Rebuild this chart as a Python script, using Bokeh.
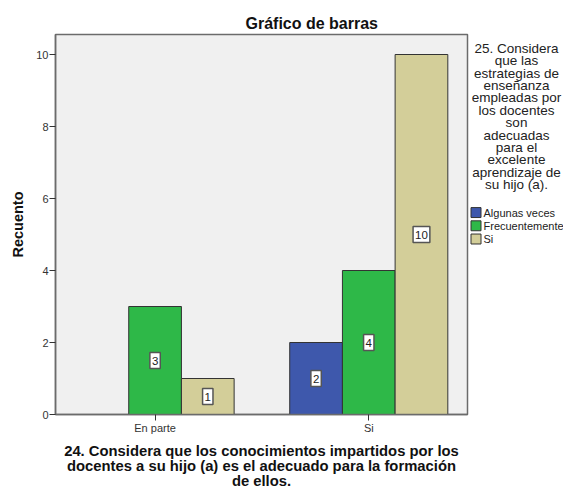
from bokeh.plotting import figure
from bokeh.layouts import row
from bokeh.models import Label, FixedTicker, ColumnDataSource, Range1d
from bokeh.embed import file_html
from bokeh.resources import INLINE
from bokeh.core.properties import value

# ---------------- data ----------------
categories = ["En parte", "Si"]
series_names = ["Algunas veces", "Frecuentemente", "Si"]
algunas_veces = [0, 2]
frecuentemente = [3, 4]
si_values = [1, 10]
series_values = [algunas_veces, frecuentemente, si_values]
series_colors = ["#3e58ac", "#2eb848", "#d3ce99"]
y_ticks = [0, 2, 4, 6, 8, 10]

chart_title = "Gráfico de barras"
x_title = ("24. Considera que los conocimientos impartidos por los\n"
           "docentes a su hijo (a) es el adecuado para la formación\n"
           "de ellos.")
y_title = "Recuento"
legend_title_lines = ["25. Considera", "que las", "estrategias de", "enseñanza",
                      "empleadas por", "los docentes", "son", "adecuadas", "para el",
                      "excelente", "aprendizaje de", "su hijo (a)."]

# ---------------- layout ----------------
FONT = "Liberation Sans"
TOTAL_W, TOTAL_H = 563, 489
FRAME_W, FRAME_H = 412, 380
BORDER_L, BORDER_T, BORDER_R = 55, 34, 2
BORDER_B = TOTAL_H - BORDER_T - FRAME_H
MAIN_W = BORDER_L + FRAME_W + BORDER_R
SIDE_W = TOTAL_W - MAIN_W
PX_PER_UNIT = 36.0
X_START, X_END = -0.466, 1.462
Y_END = FRAME_H / PX_PER_UNIT
BAR_W = 0.2466

p = figure(frame_width=FRAME_W, frame_height=FRAME_H,
           x_range=Range1d(X_START, X_END), y_range=Range1d(0, Y_END),
           output_backend="svg", toolbar_location=None, title=chart_title,
           min_border_left=BORDER_L, min_border_right=BORDER_R,
           min_border_top=BORDER_T, min_border_bottom=BORDER_B,
           background_fill_color="#f0f0f0", border_fill_color="white",
           outline_line_color="#6b6b6b", outline_line_width=1.5)
p.xgrid.visible = False
p.ygrid.visible = False

p.title.align = "left"
p.title.offset = 190
p.title.standoff = 6
p.title.text_font = FONT
p.title.text_font_size = "16px"
p.title.text_font_style = "bold"
p.title.text_color = "#111111"

n = len(series_names)
for i, (name, vals, col) in enumerate(zip(series_names, series_values, series_colors)):
    offset = (i - (n - 1) / 2) * BAR_W
    xs = [j + offset for j, v in enumerate(vals) if v > 0]
    tops = [v for v in vals if v > 0]
    src = ColumnDataSource(dict(x=xs, top=tops))
    p.vbar(x="x", top="top", width=BAR_W, source=src, fill_color=col,
           line_color="#333333", line_width=1)
    for xv, tv in zip(xs, tops):
        p.add_layout(Label(x=xv, y=tv / 2, text=str(tv), text_align="center",
                           text_baseline="middle", text_font=FONT,
                           text_font_size="11.5px", text_color="#222222",
                           background_fill_color="white", border_line_color="#555555",
                           border_line_width=1.5, padding=(2, 4)))

# axes
for ax in (p.xaxis[0], p.yaxis[0]):
    ax.axis_line_color = "#6b6b6b"
    ax.axis_line_width = 1.5
    ax.major_tick_out = 6
    ax.major_tick_in = 0
    ax.minor_tick_line_color = None
    ax.major_tick_line_color = "#333333"
    ax.major_label_text_font = FONT
    ax.major_label_text_font_size = "11px"
    ax.major_label_text_color = "#333333"
    ax.axis_label_text_font = FONT
    ax.axis_label_text_font_style = "bold"
    ax.axis_label_text_color = "#111111"

p.yaxis[0].ticker = FixedTicker(ticks=y_ticks)
p.yaxis[0].major_label_standoff = 1
p.yaxis[0].axis_label = y_title
p.yaxis[0].axis_label_text_font_size = "14.5px"
p.yaxis[0].axis_label_standoff = 7

p.xaxis[0].ticker = FixedTicker(ticks=list(range(len(categories))))
p.xaxis[0].major_label_overrides = {i: c for i, c in enumerate(categories)}
p.xaxis[0].major_label_standoff = 1
p.xaxis[0].axis_label = x_title
p.xaxis[0].axis_label_text_font_size = "14.8px"
p.xaxis[0].axis_label_text_line_height = 0.95
p.xaxis[0].axis_label_standoff = 6

# ---------------- legend panel (page pixel coordinates) ----------------
# the row aligns this panel's frame with the main frame (vertical span BORDER_T..BORDER_T+FRAME_H)
side = figure(width=SIDE_W, height=TOTAL_H,
              x_range=Range1d(MAIN_W, TOTAL_W),
              y_range=Range1d(BORDER_T + FRAME_H, BORDER_T),
              output_backend="svg", toolbar_location=None, title=None,
              min_border=0, x_axis_location=None, y_axis_location=None,
              outline_line_color=None, background_fill_color="white",
              border_fill_color="white")
side.grid.visible = False

LT_X, LT_Y0, LT_STEP = 516, 48, 12.45
side.text(x=[LT_X] * len(legend_title_lines),
          y=[LT_Y0 + k * LT_STEP for k in range(len(legend_title_lines))],
          text=legend_title_lines, text_align="center", text_baseline="middle",
          text_font=value(FONT), text_font_size="13.5px", text_color="#222222")

IT_X, IT_Y0, IT_STEP = 475.5, 213, 13.3
item_y = [IT_Y0 + k * IT_STEP for k in range(n)]
side.rect(x=[IT_X] * n, y=item_y, width=10, height=10, fill_color=series_colors,
          line_color="#333333", line_width=1)
side.text(x=[IT_X + 7.5] * n, y=item_y, text=series_names, text_align="left",
          text_baseline="middle", text_font=value(FONT), text_font_size="11px",
          text_color="#222222")

layout = row(p, side)
open("out.html", "w").write(file_html(layout, INLINE))
